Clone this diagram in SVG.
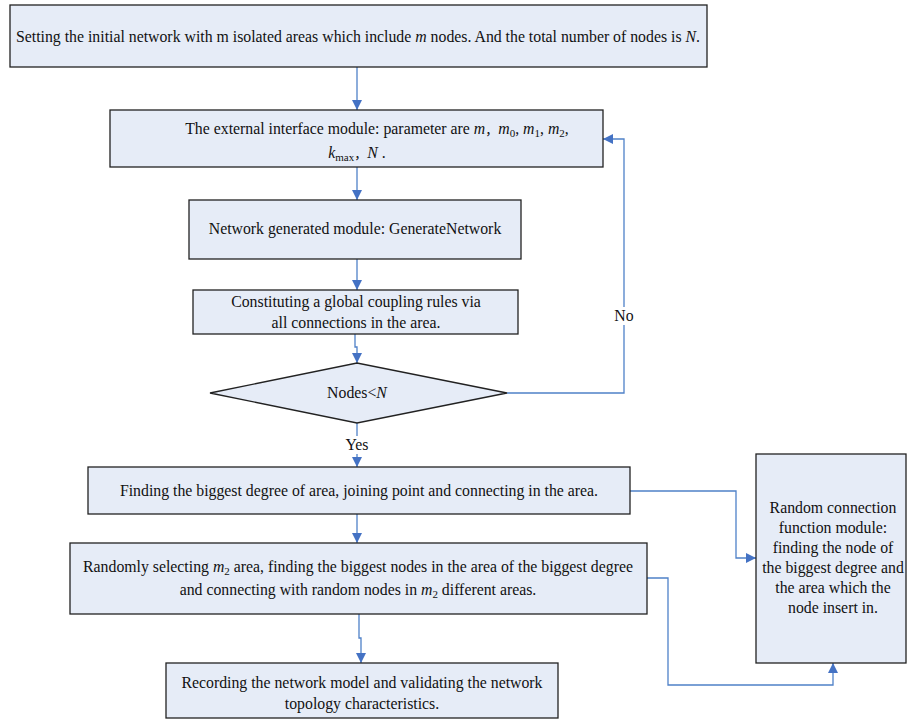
<svg xmlns="http://www.w3.org/2000/svg" width="907" height="725" viewBox="0 0 907 725">
<defs>
<marker id="ah" viewBox="0 0 10 10" refX="10" refY="5" markerWidth="10" markerHeight="10" markerUnits="userSpaceOnUse" orient="auto">
<path d="M0,0 L10,5 L0,10 z" fill="#4472C4"/>
</marker>
<style>
.box{fill:#E6ECF7;stroke:#222;stroke-width:1.3}
.t{font-family:"Liberation Serif","Times New Roman",serif;font-size:15.8px;fill:#111;text-anchor:middle}
.i{font-style:italic}
.c{fill:none;stroke:#4F81C8;stroke-width:1.3}
.s{font-size:11px}
.cj{font-family:"Noto Sans CJK SC",sans-serif;font-size:13px}
</style>
</defs>
<rect width="907" height="725" fill="#fff"/>
<g id="connectors">
<path class="c" d="M357,67 V110" marker-end="url(#ah)"/>
<path class="c" d="M357,167 V200" marker-end="url(#ah)"/>
<path class="c" d="M357,259 V290" marker-end="url(#ah)"/>
<path class="c" d="M355,334 V347 H357 V363" marker-end="url(#ah)"/>
<path class="c" d="M507,393 H624 V139 H603" marker-end="url(#ah)"/>
<path class="c" d="M357,423 V467" marker-end="url(#ah)"/>
<path class="c" d="M357,514 V543" marker-end="url(#ah)"/>
<path class="c" d="M359,614 V638 H361 V663" marker-end="url(#ah)"/>
<path class="c" d="M630,491 H736 V558 H756" marker-end="url(#ah)"/>
<path class="c" d="M647,578 H668 V685 H833 V663" marker-end="url(#ah)"/>
<rect x="610" y="307" width="28" height="18" fill="#fff"/>
<text class="t" x="624" y="321">No</text>
<rect x="342" y="436" width="30" height="18" fill="#fff"/>
<text class="t" x="357" y="450">Yes</text>
</g>
<g id="n1">
<rect class="box" x="10" y="5" width="697" height="62"/>
<text class="t" x="358" y="42">Setting the initial network with m isolated areas which include <tspan class="i">m</tspan> nodes. And the total number of nodes is <tspan class="i">N</tspan>.</text>
</g>
<g id="n2">
<rect class="box" x="110" y="110" width="493" height="57"/>
<text class="t" x="377" y="134">The external interface module: parameter are <tspan class="i">m</tspan><tspan class="cj">，</tspan><tspan class="i">m</tspan><tspan class="s" dy="3">0</tspan><tspan dy="-3">, </tspan><tspan class="i">m</tspan><tspan class="s" dy="3">1</tspan><tspan dy="-3">, </tspan><tspan class="i">m</tspan><tspan class="s" dy="3">2</tspan><tspan dy="-3">,</tspan></text>
<text class="t" x="357" y="158"><tspan class="i">k</tspan><tspan class="s" dy="3">max</tspan><tspan class="cj" dy="-3">，</tspan><tspan class="i">N</tspan> .</text>
</g>
<g id="n3">
<rect class="box" x="189" y="200" width="332" height="59"/>
<text class="t" x="355" y="234">Network generated module: GenerateNetwork</text>
</g>
<g id="n4">
<rect class="box" x="193" y="290" width="325" height="44"/>
<text class="t" x="356" y="307">Constituting a global coupling rules via</text>
<text class="t" x="356" y="328">all connections in the area.</text>
</g>
<g id="n5">
<path class="box" d="M210,393 L357,363 L507,393 L357,423 Z"/>
<text class="t" x="357" y="398">Nodes&lt;<tspan class="i">N</tspan></text>
</g>
<g id="n6">
<rect class="box" x="88" y="467" width="542" height="47"/>
<text class="t" x="359" y="496">Finding the biggest degree of area, joining point and connecting in the area.</text>
</g>
<g id="n7">
<rect class="box" x="70" y="543" width="577" height="71"/>
<text class="t" x="358" y="572">Randomly selecting <tspan class="i">m</tspan><tspan class="s" dy="3">2</tspan><tspan dy="-3"> area, finding the biggest nodes in the area of the biggest degree</tspan></text>
<text class="t" x="358" y="595">and connecting with random nodes in <tspan class="i">m</tspan><tspan class="s" dy="3">2</tspan><tspan dy="-3"> different areas.</tspan></text>
</g>
<g id="n8">
<rect class="box" x="166" y="663" width="392" height="55"/>
<text class="t" x="362" y="688">Recording the network model and validating the network</text>
<text class="t" x="362" y="709">topology characteristics.</text>
</g>
<g id="n9">
<rect class="box" x="756" y="454" width="150" height="209"/>
<text class="t" x="833" y="513">Random connection</text>
<text class="t" x="833" y="533">function module:</text>
<text class="t" x="833" y="553">finding the node of</text>
<text class="t" x="833" y="573">the biggest degree and</text>
<text class="t" x="833" y="593">the area which the</text>
<text class="t" x="833" y="613">node insert in.</text>
</g>
</svg>
